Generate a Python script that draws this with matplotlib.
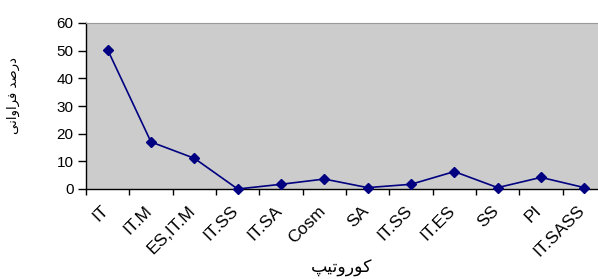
import matplotlib
matplotlib.use("Agg")
import matplotlib.pyplot as plt
import matplotlib.transforms as mtransforms
import numpy as np

# karyotype frequencies
karyotypes = ["IT", "IT.M", "ES,IT.M", "IT.SS", "IT.SA", "Cosm", "SA",
              "IT.SS", "IT.ES", "SS", "PI", "IT.SASS"]
percent = [50.3, 17.0, 11.1, 0.0, 1.7, 3.6, 0.5, 1.7, 6.3, 0.5, 4.2, 0.5]

x_title = "کوروتیپ"
y_title = "درصد فراوانی"

# matplotlib has no arabic shaping, so pick presentation forms by hand
# letter: (isolated, final, initial, medial); None = does not join to the left
forms = {
    "د": ("\uFEA9", "\uFEAA", None, None),
    "ر": ("\uFEAD", "\uFEAE", None, None),
    "ا": ("\uFE8D", "\uFE8E", None, None),
    "و": ("\uFEED", "\uFEEE", None, None),
    "ص": ("\uFEB9", "\uFEBA", "\uFEBB", "\uFEBC"),
    "ف": ("\uFED1", "\uFED2", "\uFED3", "\uFED4"),
    "ن": ("\uFEE5", "\uFEE6", "\uFEE7", "\uFEE8"),
    "ت": ("\uFE95", "\uFE96", "\uFE97", "\uFE98"),
    "ی": ("\uFBFC", "\uFBFD", "\uFBFE", "\uFBFF"),
    "ک": ("\uFB8E", "\uFB8F", "\uFB90", "\uFB91"),
    "پ": ("\uFB56", "\uFB57", "\uFB58", "\uFB59"),
}


def shape(s):
    out = []
    for i, c in enumerate(s):
        if c not in forms:
            out.append(c)
            continue
        prev = s[i - 1] if i > 0 else ""
        nxt = s[i + 1] if i + 1 < len(s) else ""
        joins_prev = prev in forms and forms[prev][2] is not None
        joins_next = forms[c][2] is not None and nxt in forms
        iso, fin, ini, med = forms[c]
        if joins_prev and joins_next:
            out.append(med)
        elif joins_prev:
            out.append(fin)
        elif joins_next:
            out.append(ini)
        else:
            out.append(iso)
    return "".join(out)[::-1]


plt.rcParams["font.family"] = ["Liberation Sans", "DejaVu Sans"]

fig = plt.figure(figsize=(5.98, 2.79), dpi=100)
ax = fig.add_axes([86 / 598, 1 - 189 / 279, 520 / 598, 166 / 279])
ax.set_facecolor("#cccccc")

pos = np.arange(len(karyotypes))
ax.plot(pos, percent, color="#000080", linewidth=1.2, marker="D",
        markersize=5.5, markerfacecolor="#000080", markeredgecolor="#000080",
        clip_on=False, zorder=3)

ax.set_xlim(-0.5, len(karyotypes) - 0.5)
ax.set_ylim(0, 60)
ax.set_yticks(np.arange(0, 61, 10))

ax.set_xticks(np.arange(-0.5, len(karyotypes), 1.0))
ax.set_xticklabels([])
ax.set_xticks(pos, minor=True)
ax.set_xticklabels(karyotypes, minor=True, rotation=45, ha="right",
                   va="top", rotation_mode="anchor", fontsize=12.5)
ax.tick_params(axis="x", which="major", length=4, width=1, direction="out")
ax.tick_params(axis="x", which="minor", length=0, pad=10)
ax.tick_params(axis="y", length=6, width=1, direction="out", labelsize=11,
               pad=3)

# move the rotated labels a bit left, like the original
shift = mtransforms.ScaledTranslation(-7 / 100, 0, fig.dpi_scale_trans)
for lab in ax.get_xticklabels(minor=True):
    lab.set_transform(lab.get_transform() + shift)

for side in ["left", "bottom"]:
    ax.spines[side].set_color("black")
    ax.spines[side].set_linewidth(1)
for side in ["top", "right"]:
    ax.spines[side].set_color("#999999")

fig.text(342 / 598, 1 - 268 / 279, shape(x_title), ha="center", va="center",
         fontsize=12.5, family=["DejaVu Sans"])
fig.text(13 / 598, 1 - 95 / 279, shape(y_title), ha="center", va="center",
         rotation=90, fontsize=9.5, family=["DejaVu Sans"])

fig.savefig("out.png", dpi=100)
